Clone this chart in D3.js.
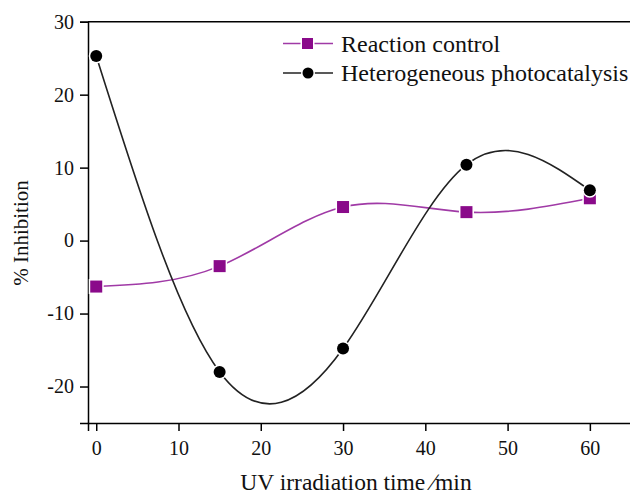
<!DOCTYPE html>
<html><head><meta charset="utf-8">
<script src="https://cdn.jsdelivr.net/npm/d3@7"></script>
<style>body{margin:0;background:#fff}svg{display:block}text{font-family:"Liberation Serif","Times New Roman",serif}</style>
</head><body>
<svg id="c" width="630" height="494"></svg>
<script>
const times = [0, 15, 30, 45, 60];
const reactionControl = [-6.3, -3.5, 4.6, 3.9, 5.8];
const photocatalysis = [25.3, -18.0, -14.8, 10.4, 6.9];
const xTicks = [0, 10, 20, 30, 40, 50, 60];
const yTicks = [-20, -10, 0, 10, 20, 30];
const seriesNames = ["Reaction control", "Heterogeneous photocatalysis"];

const svg = d3.select("#c");
const x = d3.scaleLinear().domain([-1, 65]).range([88, 631]);
const y = d3.scaleLinear().domain([-25, 30]).range([423, 21.7]);

svg.append("line").attr("x1", 88).attr("x2", 630).attr("y1", y(30)).attr("y2", y(30))
  .attr("stroke", "#000").attr("stroke-width", 1.5);

const gx = svg.append("g").attr("transform", `translate(0,${y(-25)})`)
  .call(d3.axisBottom(x).tickValues(xTicks).tickFormat(d => String(d)).tickSize(8).tickPadding(10));
const gy = svg.append("g").attr("transform", `translate(${x(-1)},0)`)
  .call(d3.axisLeft(y).tickValues(yTicks).tickFormat(d => String(d)).tickSize(8).tickPadding(6));
[gx, gy].forEach(g => {
  g.select(".domain").attr("stroke-width", 1.5);
  g.selectAll(".tick line").attr("stroke-width", 1.5);
  g.selectAll("text").attr("font-size", 20).attr("fill", "#111")
    .style("font-family", '"Liberation Serif", serif');
});

const line = d3.line().x((d, i) => x(times[i])).y(d => y(d)).curve(d3.curveNatural);
const purple = "#8a0a8a";
svg.append("path").attr("d", line(reactionControl)).attr("fill", "none")
  .attr("stroke", "#a03aa6").attr("stroke-width", 1.6);
svg.append("path").attr("d", line(photocatalysis)).attr("fill", "none")
  .attr("stroke", "#222").attr("stroke-width", 1.6);

svg.selectAll("rect.m").data(reactionControl).enter().append("rect")
  .attr("x", (d, i) => x(times[i]) - 6).attr("y", d => y(d) - 6)
  .attr("width", 12).attr("height", 12).attr("fill", purple)
  .attr("stroke", "#fff").attr("stroke-width", 3).attr("paint-order", "stroke");
svg.selectAll("circle.m").data(photocatalysis).enter().append("circle")
  .attr("cx", (d, i) => x(times[i])).attr("cy", d => y(d)).attr("r", 6)
  .attr("fill", "#000").attr("stroke", "#fff").attr("stroke-width", 3).attr("paint-order", "stroke");

const lg = [{c: "#a03aa6", m: "rect", f: purple, y: 43.5}, {c: "#222", m: "circle", f: "#000", y: 73}];
lg.forEach((d, i) => {
  svg.append("line").attr("x1", 283).attr("x2", 333).attr("y1", d.y).attr("y2", d.y)
    .attr("stroke", d.c).attr("stroke-width", 1.6);
  if (d.m === "rect") {
    svg.append("rect").attr("x", 302).attr("y", d.y - 5.5).attr("width", 11).attr("height", 11)
      .attr("fill", d.f).attr("stroke", "#fff").attr("stroke-width", 3).attr("paint-order", "stroke");
  } else {
    svg.append("circle").attr("cx", 308).attr("cy", d.y).attr("r", 5.5)
      .attr("fill", d.f).attr("stroke", "#fff").attr("stroke-width", 3).attr("paint-order", "stroke");
  }
  svg.append("text").attr("x", 341).attr("y", d.y + 8).attr("font-size", 24).attr("fill", "#111")
    .text(seriesNames[i]);
});

svg.append("text").attr("x", 356).attr("y", 490).attr("text-anchor", "middle")
  .attr("font-size", 23.5).attr("fill", "#111").text("UV irradiation time ∕min");
svg.append("text").attr("transform", "translate(28,233) rotate(-90)").attr("text-anchor", "middle")
  .attr("font-size", 21).attr("fill", "#111").text("% Inhibition");
</script>
</body></html>
